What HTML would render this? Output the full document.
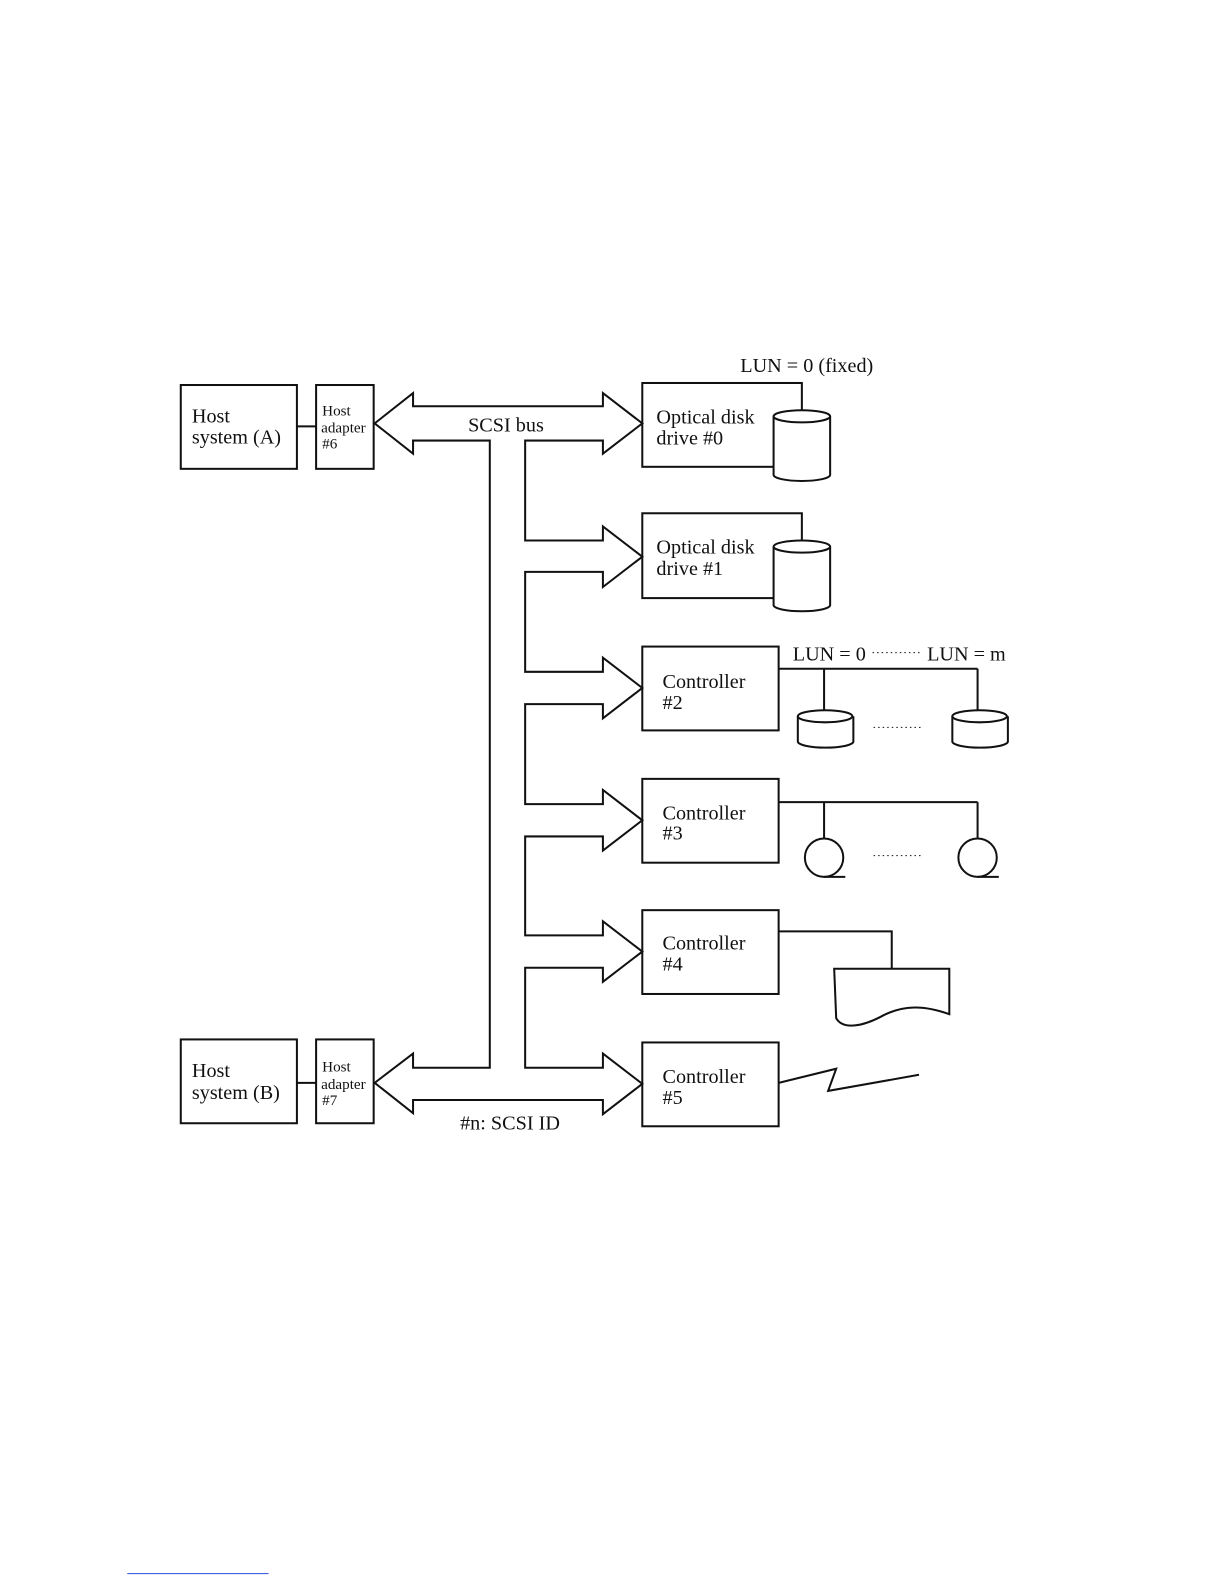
<!DOCTYPE html>
<html><head><meta charset="utf-8"><style>
html,body{margin:0;padding:0;background:#fff;}
svg{display:block;}
text{font-family:"Liberation Serif",serif;fill:#111;}
</style></head><body>
<svg width="1224" height="1584" viewBox="0 0 1212 1568" xmlns="http://www.w3.org/2000/svg">
<g fill="none" stroke="#111" stroke-width="2">
<rect x="179" y="381" width="115" height="83"/>
<rect x="313" y="381" width="57" height="83"/>
<line x1="294" y1="422" x2="313" y2="422"/>
<rect x="179" y="1029" width="115" height="83"/>
<rect x="313" y="1029" width="57" height="83"/>
<line x1="294" y1="1072" x2="313" y2="1072"/>
<path fill="#fff" d="M371,419 L409,389 L409,402 L597,402 L597,389 L636,419 L597,449 L597,436 L520,436
L520,535 L597,535 L597,521 L636,551 L597,581 L597,566 L520,566
L520,665 L597,665 L597,651 L636,681 L597,711 L597,697 L520,697
L520,796 L597,796 L597,782 L636,812 L597,842 L597,828 L520,828
L520,926 L597,926 L597,912 L636,942 L597,972 L597,958 L520,958
L520,1057 L597,1057 L597,1043 L636,1073 L597,1103 L597,1089 L409,1089 L409,1102 L371,1072 L409,1043 L409,1057 L485,1057 L485,436 L409,436 L409,449 Z"/>
<rect x="636" y="379" width="158" height="83"/>
<rect x="636" y="508" width="158" height="84"/>
<path fill="#fff" d="M766,412 L766,470 A28,6 0 0 0 822,470 L822,412"/>
<ellipse cx="794" cy="412" rx="28" ry="6" fill="#fff"/>
<path fill="#fff" d="M766,541 L766,599 A28,6 0 0 0 822,599 L822,541"/>
<ellipse cx="794" cy="541" rx="28" ry="6" fill="#fff"/>
<rect x="636" y="640" width="135" height="83"/>
<rect x="636" y="771" width="135" height="83"/>
<rect x="636" y="901" width="135" height="83"/>
<rect x="636" y="1032" width="135" height="83"/>
<path d="M771,662 L968,662 M816,662 L816,703 M968,662 L968,703"/>
<path fill="#fff" d="M790,709 L790,734 A27,6 0 0 0 845,734 L845,709"/>
<ellipse cx="817" cy="709" rx="27" ry="6" fill="#fff"/>
<path fill="#fff" d="M943,709 L943,734 A27,6 0 0 0 998,734 L998,709"/>
<ellipse cx="970" cy="709" rx="27" ry="6" fill="#fff"/>
<path d="M771,794 L968,794 M816,794 L816,830 M968,794 L968,830"/>
<circle cx="816" cy="849" r="19"/>
<line x1="816" y1="868" x2="837" y2="868"/>
<circle cx="968" cy="849" r="19"/>
<line x1="968" y1="868" x2="989" y2="868"/>
<path d="M771,922 L883,922 L883,959"/>
<path d="M826,959 L940,959 L940,1004 C915,995 895,995 875,1005 C855,1016 835,1020 828,1008 Z"/>
<path d="M771,1072 L828,1058 L820,1080 L910,1064"/>
</g>
<g stroke="#111" stroke-width="1" stroke-dasharray="1.5,3">
<line x1="865" y1="720" x2="912" y2="720"/>
<line x1="865" y1="847" x2="912" y2="847"/>
<line x1="864" y1="646" x2="911" y2="646"/>
</g>
<line x1="126" y1="1558" x2="266" y2="1558" stroke="#2a4fd6" stroke-width="1"/>
<g font-size="20">
<text x="190" y="418">Host</text><text x="190" y="439">system (A)</text>
<text x="190" y="1066">Host</text><text x="190" y="1088">system (B)</text>
<text x="650" y="419">Optical disk</text><text x="650" y="440">drive #0</text>
<text x="650" y="548">Optical disk</text><text x="650" y="569">drive #1</text>
<text x="656" y="681">Controller</text><text x="656" y="702">#2</text>
<text x="656" y="811">Controller</text><text x="656" y="831">#3</text>
<text x="656" y="940">Controller</text><text x="656" y="961">#4</text>
<text x="656" y="1072">Controller</text><text x="656" y="1093">#5</text>
<text x="733" y="368">LUN = 0 (fixed)</text>
<text x="785" y="654">LUN = 0</text><text x="918" y="654">LUN = m</text>
<text x="501" y="427" text-anchor="middle">SCSI bus</text>
<text x="505" y="1118" text-anchor="middle">#n: SCSI ID</text>
</g>
<g font-size="15">
<text x="319" y="411">Host</text><text x="318" y="428">adapter</text><text x="319" y="444">#6</text>
<text x="319" y="1061">Host</text><text x="318" y="1078">adapter</text><text x="319" y="1094">#7</text>
</g>
</svg>
</body></html>
